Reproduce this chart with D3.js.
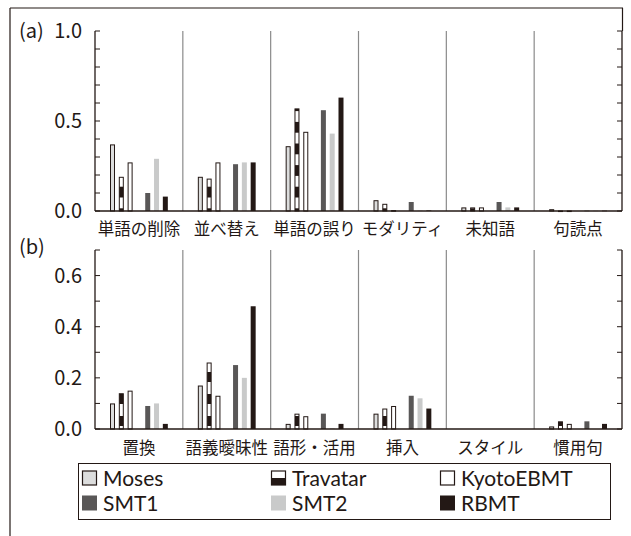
<!DOCTYPE html>
<html><head><meta charset="utf-8">
<script src="https://cdn.jsdelivr.net/npm/d3@7/dist/d3.min.js"></script>
<style>
html,body{margin:0;padding:0;background:#fff;}
svg{display:block;}
text{font-family:"Noto Sans CJK JP","Noto Sans",sans-serif;fill:#231815;}
text.leg{font-family:Lato,"Noto Sans",sans-serif;}
</style></head>
<body>
<script>
// ---- data ----
const seriesNames = ["Moses","Travatar","KyotoEBMT","SMT1","SMT2","RBMT"];
const categoriesA = ["単語の削除","並べ替え","単語の誤り","モダリティ","未知語","句読点"];
const categoriesB = ["置換","語義曖昧性","語形・活用","挿入","スタイル","慣用句"];
const mosesA    = [0.37, 0.19, 0.36, 0.06, 0.02, 0.01];
const travatarA = [0.19, 0.18, 0.57, 0.04, 0.02, 0.003];
const kyotoA    = [0.27, 0.27, 0.44, 0.005, 0.02, 0.003];
const smt1A     = [0.10, 0.26, 0.56, 0.05, 0.05, 0.002];
const smt2A     = [0.29, 0.27, 0.43, 0.003, 0.02, 0.002];
const rbmtA     = [0.08, 0.27, 0.63, 0.003, 0.02, 0.002];
const mosesB    = [0.10, 0.17, 0.02, 0.06, 0, 0.01];
const travatarB = [0.14, 0.26, 0.06, 0.08, 0, 0.03];
const kyotoB    = [0.15, 0.13, 0.05, 0.09, 0, 0.02];
const smt1B     = [0.09, 0.25, 0.06, 0.13, 0, 0.03];
const smt2B     = [0.10, 0.20, 0.003, 0.12, 0, 0];
const rbmtB     = [0.02, 0.48, 0.02, 0.08, 0, 0.02];
const yTicksA = [0, 0.5, 1.0];
const yTicksB = [0, 0.2, 0.4, 0.6];

const W = 631, H = 536;
const dark = "#231815";
const svg = d3.select("body").append("svg").attr("width", W).attr("height", H);
const defs = svg.append("defs");

function makePattern(id, offset, period, blackLen){
  const p = defs.append("pattern").attr("id", id).attr("patternUnits","userSpaceOnUse")
    .attr("width", 10).attr("height", period)
    .attr("patternTransform", `translate(0,${offset})`);
  p.append("rect").attr("width",10).attr("height",period).attr("fill","#fff");
  p.append("rect").attr("width",10).attr("height",blackLen).attr("fill",dark);
}
makePattern("travA", 186.7, 21.6, 10.8);
makePattern("travB", 372, 22, 10);

const styles = {
  Moses:    {fill:"#dcdddd", stroke:dark},
  Travatar: {fill:null, stroke:dark},
  KyotoEBMT:{fill:"#ffffff", stroke:dark},
  SMT1:     {fill:"#595757", stroke:null},
  SMT2:     {fill:"#c9caca", stroke:null},
  RBMT:     {fill:dark, stroke:null}
};

// outer frame
svg.append("line").attr("x1",10).attr("x2",10).attr("y1",8).attr("y2",H).attr("stroke",dark).attr("stroke-width",1.2);
svg.append("line").attr("x1",10).attr("x2",623).attr("y1",8).attr("y2",8).attr("stroke",dark).attr("stroke-width",1.2);
svg.append("line").attr("x1",622.5).attr("x2",622.5).attr("y1",8).attr("y2",31).attr("stroke",dark).attr("stroke-width",1.2);

const slots = ["Moses","Travatar","KyotoEBMT","_gap","SMT1","SMT2","RBMT"];

function panel(opts){
  const {cats, data, y0, y1, yMax, ticks, label, labelY, pat, catY} = opts;
  const x0 = 95, x1 = 622;
  const x = d3.scaleBand().domain(cats).range([x0, x1]);
  const y = d3.scaleLinear().domain([0, yMax]).range([y0, y1]);
  const bw = x.bandwidth();
  const inner = d3.scalePoint().domain(slots).range([15, bw - 15 - 5]);
  const g = svg.append("g");

  // group dividers
  g.selectAll("line.div").data(cats.slice(1)).join("line")
    .attr("x1", d => x(d)).attr("x2", d => x(d))
    .attr("y1", y1).attr("y2", y0).attr("stroke","#8a8a8a").attr("stroke-width",1.2);

  // bars
  seriesNames.forEach((s, si) => {
    const vals = data[si];
    const st = styles[s];
    g.selectAll(null).data(cats.map((c,i)=>({c, v:vals[i]})).filter(d=>d.v>0)).join("rect")
      .attr("x", d => x(d.c) + inner(s) + (st.stroke ? 0.5 : 0))
      .attr("width", st.stroke ? 4 : 5)
      .attr("y", d => y(d.v) + (st.stroke ? 0.5 : 0))
      .attr("height", d => Math.max(0.6, y0 - y(d.v) - (st.stroke ? 0.5 : 0)))
      .attr("fill", s === "Travatar" ? `url(#${pat})` : st.fill)
      .attr("stroke", st.stroke || "none")
      .attr("stroke-width", 1);
  });

  // axes
  const minor = d3.range(0, yMax + 1e-9, 0.1);
  g.append("line").attr("x1",x0).attr("x2",x0).attr("y1",y1).attr("y2",y0).attr("stroke",dark).attr("stroke-width",1.3);
  g.append("line").attr("x1",x1).attr("x2",x1).attr("y1",y1).attr("y2",y0).attr("stroke",dark).attr("stroke-width",1.3);
  g.selectAll("line.tl").data(minor).join("line")
    .attr("x1",x0).attr("x2",x0+5).attr("y1",d=>y(d)).attr("y2",d=>y(d)).attr("stroke",dark).attr("stroke-width",1);
  g.selectAll("line.tr").data(minor).join("line")
    .attr("x1",x1-5).attr("x2",x1).attr("y1",d=>y(d)).attr("y2",d=>y(d)).attr("stroke",dark).attr("stroke-width",1);
  g.append("line").attr("x1",x0).attr("x2",x1).attr("y1",y0).attr("y2",y0).attr("stroke",dark).attr("stroke-width",1.5);

  // tick labels
  g.selectAll("text.yt").data(ticks).join("text")
    .attr("x", 82).attr("y", d => y(d)).attr("dy","0.35em")
    .attr("text-anchor","end").attr("font-size",20)
    .text(d => d.toFixed(1));

  // category labels
  g.selectAll("text.cat").data(cats).join("text")
    .attr("x", d => x(d) + bw/2).attr("y", catY)
    .attr("text-anchor","middle").attr("font-size",16.5)
    .text(d => d);

  // panel label
  svg.append("text").attr("x",19).attr("y",labelY).attr("font-size",20).text(label);
}

panel({cats:categoriesA, data:[mosesA,travatarA,kyotoA,smt1A,smt2A,rbmtA],
  y0:211, y1:31, yMax:1.0, ticks:yTicksA, label:"(a)", labelY:38, pat:"travA", catY:235});
panel({cats:categoriesB, data:[mosesB,travatarB,kyotoB,smt1B,smt2B,rbmtB],
  y0:429, y1:250, yMax:0.7, ticks:yTicksB, label:"(b)", labelY:254, pat:"travB", catY:454});

// legend
const lg = svg.append("g");
lg.append("rect").attr("x",78.5).attr("y",463.5).attr("width",532).attr("height",56)
  .attr("fill","#fff").attr("stroke",dark).attr("stroke-width",1);
const colX = [82, 271, 440];
const rowY = [478, 503];
seriesNames.forEach((s, i) => {
  const cx = colX[i % 3], cy = rowY[Math.floor(i / 3)];
  const st = styles[s];
  const sq = 15;
  if (s === "Travatar") {
    lg.append("rect").attr("x",cx+0.5).attr("y",cy-sq/2+0.5).attr("width",sq-1).attr("height",sq-1).attr("fill","#fff").attr("stroke",dark).attr("stroke-width",1.2);
    lg.append("rect").attr("x",cx+0.5).attr("y",cy).attr("width",sq-1).attr("height",sq/2-0.5).attr("fill",dark);
  } else {
    lg.append("rect").attr("x",cx+(st.stroke?0.5:0)).attr("y",cy-sq/2+(st.stroke?0.5:0))
      .attr("width",st.stroke?sq-1:sq).attr("height",st.stroke?sq-1:sq)
      .attr("fill",st.fill).attr("stroke",st.stroke||"none").attr("stroke-width",1.2);
  }
  lg.append("text").attr("class","leg").attr("x",cx+21).attr("y",cy).attr("dy","0.36em").attr("font-size",21).text(s);
});
</script>
</body></html>
